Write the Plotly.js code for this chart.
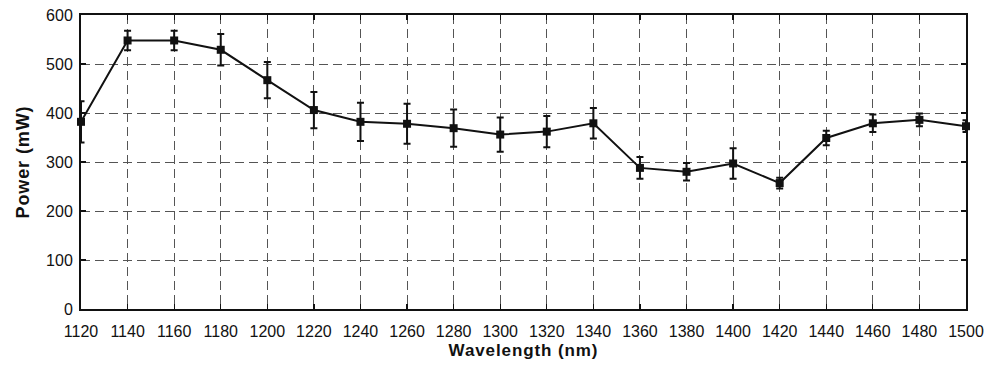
<!DOCTYPE html>
<html>
<head>
<meta charset="utf-8">
<script src="https://cdn.plot.ly/plotly-3.0.1.min.js"></script>
<style>
html,body{margin:0;padding:0;background:#fff;}
#chart{width:999px;height:369px;}
.xtitle,.ytitle{letter-spacing:0.9px;}
</style>
</head>
<body>
<div id="chart"></div>
<script>
const wavelength = [1120,1140,1160,1180,1200,1220,1240,1260,1280,1300,1320,1340,1360,1380,1400,1420,1440,1460,1480,1500];
const power      = [382, 548, 548, 529, 467, 406, 382, 378, 369, 356, 362, 379, 288, 280, 297, 257, 349, 379, 386, 373];
const errPower   = [42,  20,  20,  32,  37,  37,  39,  41,  38,  35,  32,  31,  22,  18,  31,  11,  15,  18,  13,  12];
const xTicks = [1120,1140,1160,1180,1200,1220,1240,1260,1280,1300,1320,1340,1360,1380,1400,1420,1440,1460,1480,1500];
const yTicks = [0,100,200,300,400,500,600];

const trace = {
  x: wavelength, y: power, type: 'scatter', mode: 'lines+markers',
  line: {color: '#111', width: 2},
  marker: {symbol: 'square', size: 8, color: '#111'},
  error_y: {type: 'data', array: errPower, visible: true, color: '#111', thickness: 2, width: 3.5},
  showlegend: false, cliponaxis: false
};
const fontFam = 'Liberation Sans, Arial, Helvetica, sans-serif';
const axisCommon = {
  showline: true, linecolor: '#111', linewidth: 2, mirror: 'ticks',
  ticks: 'inside', ticklen: 5, tickwidth: 1.3, tickcolor: '#111',
  showgrid: true, gridcolor: '#555', gridwidth: 1, griddash: '9px,5px',
  zeroline: false,
  tickfont: {family: fontFam, size: 16, color: '#111'}
};
const layout = {
  width: 999, height: 369,
  margin: {l: 81, r: 33, t: 15, b: 60},
  paper_bgcolor: '#fff', plot_bgcolor: '#fff',
  xaxis: Object.assign({}, axisCommon, {
    range: [1120, 1500], tickvals: xTicks, ticktext: xTicks.map(String),
    ticklabelstandoff: 7,
    title: {text: 'Wavelength (nm)', standoff: 5, font: {family: fontFam, size: 17, color: '#111', weight: 'bold'}}
  }),
  yaxis: Object.assign({}, axisCommon, {
    range: [0, 600], tickvals: yTicks, ticktext: yTicks.map(String),
    ticklabelstandoff: 3,
    title: {text: 'Power (mW)', standoff: 12, font: {family: fontFam, size: 18, color: '#111', weight: 'bold'}}
  })
};
Plotly.newPlot('chart', [trace], layout, {displayModeBar: false, staticPlot: true});
</script>
</body>
</html>
